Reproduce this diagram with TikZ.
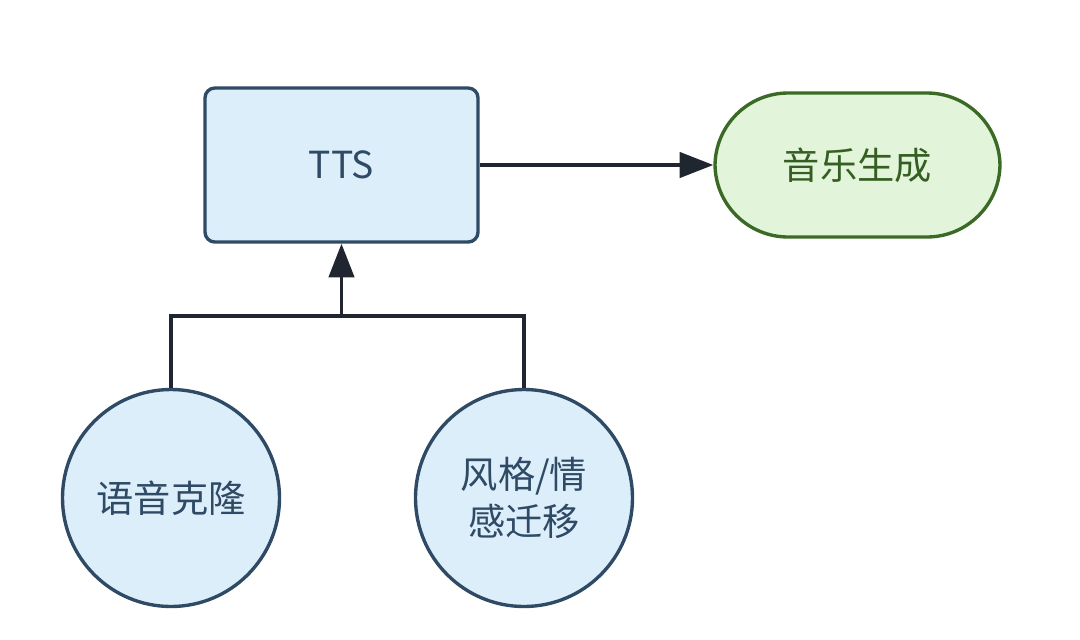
\documentclass[tikz,border=0pt]{standalone}
\usepackage{fontspec}
\setmainfont{Noto Sans CJK SC}
\usetikzlibrary{arrows.meta}
\definecolor{bluefill}{HTML}{DDEEFB}
\definecolor{blueline}{HTML}{2E4A64}
\definecolor{greenfill}{HTML}{E2F4D9}
\definecolor{greenline}{HTML}{3B6A26}
\definecolor{linkcol}{HTML}{1F2630}
\tikzset{
  bluebox/.style={draw=blueline,fill=bluefill,text=blueline,line width=2.4pt,
    rounded corners=7pt,minimum width=273*0.025cm,minimum height=154*0.025cm},
  endbox/.style={draw=greenline,fill=greenfill,text=greenline!90!black,line width=2.4pt,
    rounded corners=52pt,minimum width=285*0.025cm,minimum height=144*0.025cm},
  bluecircle/.style={circle,draw=blueline,fill=bluefill,text=blueline,line width=2.4pt,
    minimum size=217*0.025cm,align=center,inner sep=0pt},
  link/.style={draw=linkcol,line width=2.6pt,-{Triangle[length=24pt,width=18pt]}}
}
\begin{document}
\begin{tikzpicture}[x=0.025cm,y=-0.025cm,font=\fontsize{26.5}{33}\selectfont]
\useasboundingbox (0,0) rectangle (1080,639);
% Main nodes
\node[bluebox] (tts) at (341.5,165) {TTS};
\node[endbox] (music) at (857.5,165) {音乐生成};
% Two inputs at the bottom
\node[bluecircle] (clone) at (171,498) {语音克隆};
\node[bluecircle] (style) at (524,498) {风格/情\\感迁移};
% Merge line from the two circles
\coordinate (join) at (tts.south |- 0,316);
\draw[linkcol,line width=2.6pt] (clone.north) |- (join) -| (style.north);
\draw[link] (join) -- (tts.south);
\draw[link] (tts.east) -- (music.west);
\end{tikzpicture}
\end{document}
